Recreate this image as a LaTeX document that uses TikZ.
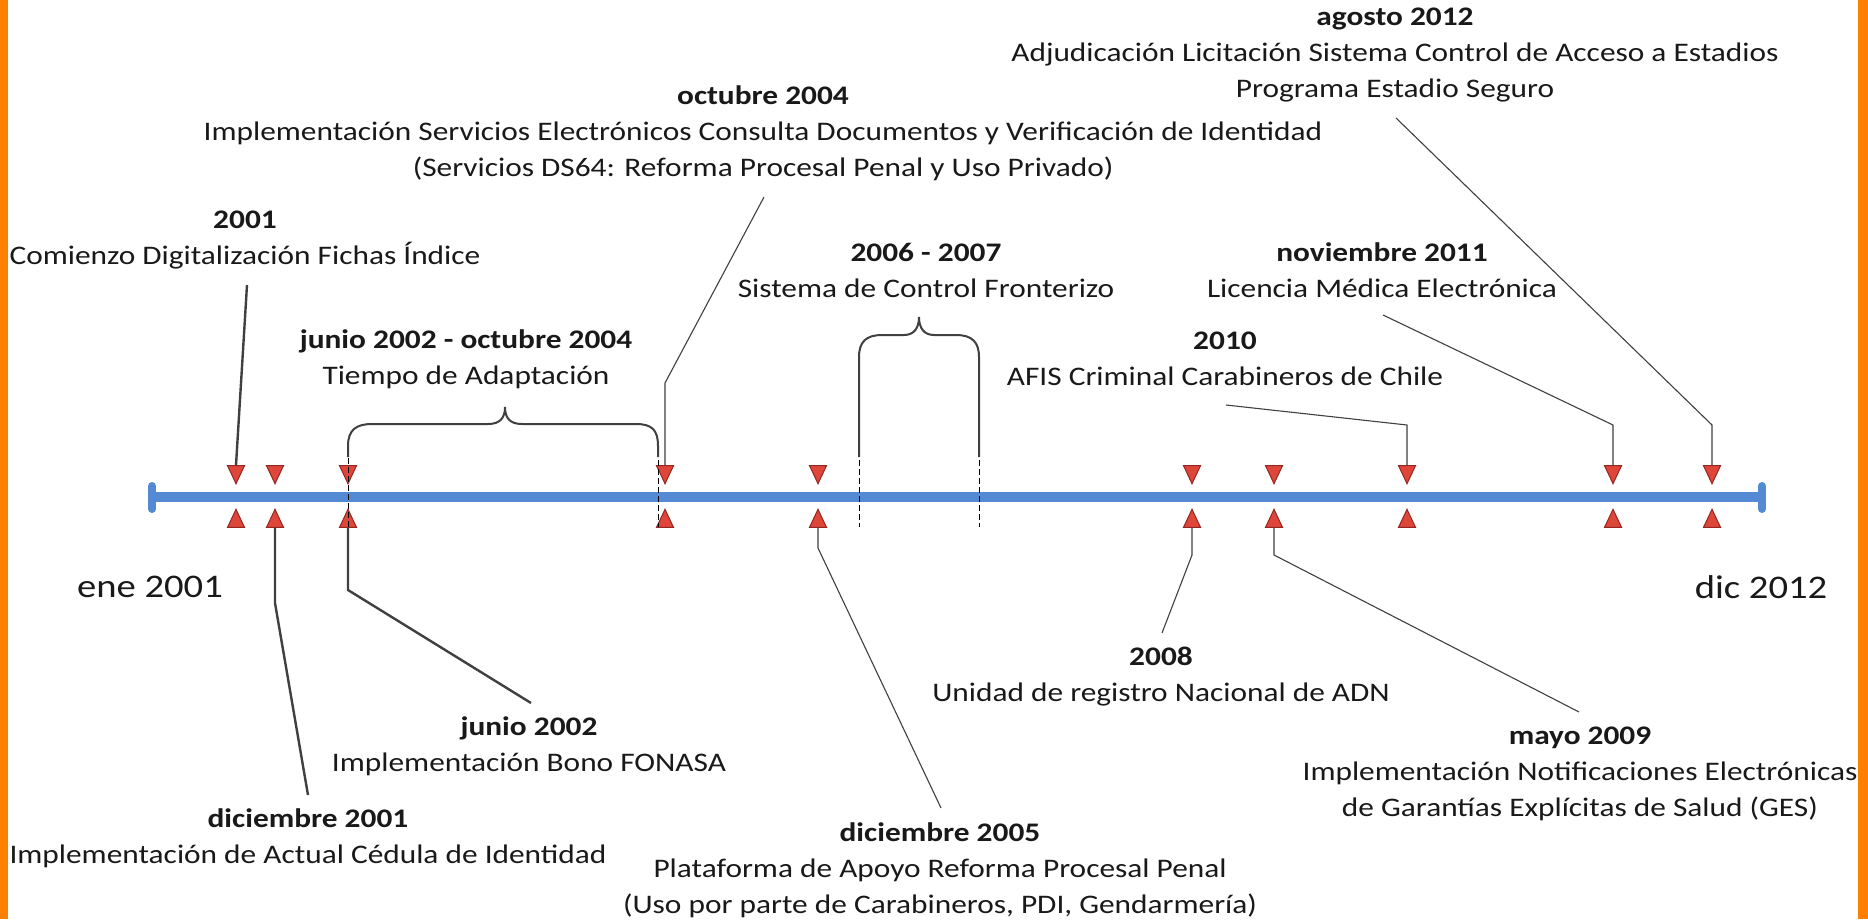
\documentclass[tikz,border=0pt]{standalone}
\usepackage{fontspec}
\setmainfont{Carlito}[FakeStretch=1.17]
\usetikzlibrary{shapes.geometric}
\definecolor{tlblue}{RGB}{84,137,212}
\definecolor{trifill}{RGB}{222,70,58}
\definecolor{triedge}{RGB}{150,38,32}
\definecolor{frameorange}{RGB}{255,128,0}
\definecolor{leadgray}{RGB}{64,64,64}
\definecolor{txt}{RGB}{25,25,25}
\begin{document}
\begin{tikzpicture}[x=1pt,y=-1pt,
  lbl/.style={align=center,font=\fontsize{26.8}{36}\selectfont,inner sep=0pt,text=txt},
  bigl/.style={font=\fontsize{33}{40}\selectfont,inner sep=0pt,text=txt},
  trid/.style={isosceles triangle,isosceles triangle stretches,shape border rotate=270,
    minimum width=17pt,minimum height=18pt,inner sep=0pt,fill=trifill,draw=triedge,
    line width=1pt,anchor=apex},
  triu/.style={isosceles triangle,isosceles triangle stretches,shape border rotate=90,
    minimum width=17pt,minimum height=18pt,inner sep=0pt,fill=trifill,draw=triedge,
    line width=1pt,anchor=apex},
  leadA/.style={draw=leadgray,line width=2.4pt},
  leadB/.style={draw=leadgray,line width=1.1pt},
  bracel/.style={draw=leadgray,line width=2pt},
  dashl/.style={draw=black,line width=0.9pt,dash pattern=on 6pt off 3pt}
]
\fill[white] (0,0) rectangle (1868,919);
\useasboundingbox (0,0) rectangle (1868,919);
\fill[frameorange] (0,0) rectangle (8,919);
\fill[frameorange] (1858,0) rectangle (1868,919);

% timeline
\coordinate (tstart) at (152,497);
\coordinate (tend) at (1762,497);
\draw[tlblue,line width=10pt] (tstart) -- (tend);
\draw[tlblue,line width=8pt,line cap=round] (152,486) -- (152,509);
\draw[tlblue,line width=8pt,line cap=round] (1762,486) -- (1762,509);

% markers
\foreach \x [count=\i] in {236,275,348,665,818,1192,1274,1407,1613,1712}{
  \node[trid] (d\i) at (\x,485) {};
  \node[triu] (u\i) at (\x,508) {};
}

% braces
\draw[bracel] (348,457) -- (348,446) .. controls (348,430) and (356,424) .. (372,424)
  -- (488,424) .. controls (500,424) and (505,418) .. (505,407)
  .. controls (505,418) and (510,424) .. (522,424)
  -- (636,424) .. controls (652,424) and (658,430) .. (658,446) -- (658,457);
\draw[bracel] (859,457) -- (859,357) .. controls (859,342) and (866,335) .. (882,335)
  -- (904,335) .. controls (914,335) and (919,328) .. (919,317)
  .. controls (919,328) and (924,335) .. (934,335)
  -- (956,335) .. controls (972,335) and (979,342) .. (979,357) -- (979,457);

% dashed guides
\draw[dashl] (348,458) -- (348,527);
\draw[dashl] (658,460) -- (658,527);
\draw[dashl] (859,460) -- (859,527);
\draw[dashl] (979,460) -- (979,527);

% labels
\node[bigl] (ene) at (150,587) {ene 2001};
\node[bigl] (dic) at (1761,587) {dic 2012};
\node[lbl] (L2001) at (245,240) {\textbf{2001}\\Comienzo Digitalización Fichas Índice};
\node[lbl] (Ldic2001) at (308,838) {\textbf{diciembre 2001}\\Implementación de Actual Cédula de Identidad};
\node[lbl] (Ljun2002) at (529,746) {\textbf{junio 2002}\\Implementación Bono FONASA};
\node[lbl] (Ladapt) at (466,359) {\textbf{junio 2002 - octubre 2004}\\Tiempo de Adaptación};
\node[lbl] (Loct2004) at (763,133) {\textbf{octubre 2004}\\Implementación Servicios Electrónicos Consulta Documentos y Verificación de Identidad\\(Servicios DS64: Reforma Procesal Penal y Uso Privado)};
\node[lbl] (Ldic2005) at (940,870) {\textbf{diciembre 2005}\\Plataforma de Apoyo Reforma Procesal Penal\\(Uso por parte de Carabineros, PDI, Gendarmería)};
\node[lbl] (L0607) at (926,270) {\textbf{2006 - 2007}\\Sistema de Control Fronterizo};
\node[lbl] (L2008) at (1161,677) {\textbf{2008}\\Unidad de registro Nacional de ADN};
\node[lbl] (Lmay2009) at (1580,774) {\textbf{mayo 2009}\\Implementación Notificaciones Electrónicas\\de Garantías Explícitas de Salud (GES)};
\node[lbl] (L2010) at (1225,359) {\textbf{2010}\\AFIS Criminal Carabineros de Chile};
\node[lbl] (Lnov2011) at (1382,270) {\textbf{noviembre 2011}\\Licencia Médica Electrónica};
\node[lbl] (Lago2012) at (1395,55) {\textbf{agosto 2012}\\Adjudicación Licitación Sistema Control de Acceso a Estadios\\Programa Estadio Seguro};

% connectors
\coordinate (s1) at (247,285);
\draw[leadA] (s1) -- (d1.north);
\coordinate (b2) at (275,603); \coordinate (s2) at (308,795);
\draw[leadA] (u2.south) -- (b2) -- (s2);
\coordinate (b3) at (348,590); \coordinate (s3) at (531,703);
\draw[leadA] (u3.south) -- (b3) -- (s3);
\coordinate (s4) at (764,197); \coordinate (b4) at (665,383);
\draw[leadB] (s4) -- (b4) -- (d4.north);
\coordinate (b5) at (818,548); \coordinate (s5) at (941,808);
\draw[leadB] (u5.south) -- (b5) -- (s5);
\coordinate (b6) at (1192,555); \coordinate (s6) at (1162,633);
\draw[leadB] (u6.south) -- (b6) -- (s6);
\coordinate (b7) at (1274,555); \coordinate (s7) at (1579,712);
\draw[leadB] (u7.south) -- (b7) -- (s7);
\coordinate (s8) at (1226,405); \coordinate (b8) at (1407,425);
\draw[leadB] (s8) -- (b8) -- (d8.north);
\coordinate (s9) at (1383,315); \coordinate (b9) at (1613,425);
\draw[leadB] (s9) -- (b9) -- (d9.north);
\coordinate (s10) at (1396,118); \coordinate (b10) at (1712,425);
\draw[leadB] (s10) -- (b10) -- (d10.north);
\end{tikzpicture}
\end{document}
